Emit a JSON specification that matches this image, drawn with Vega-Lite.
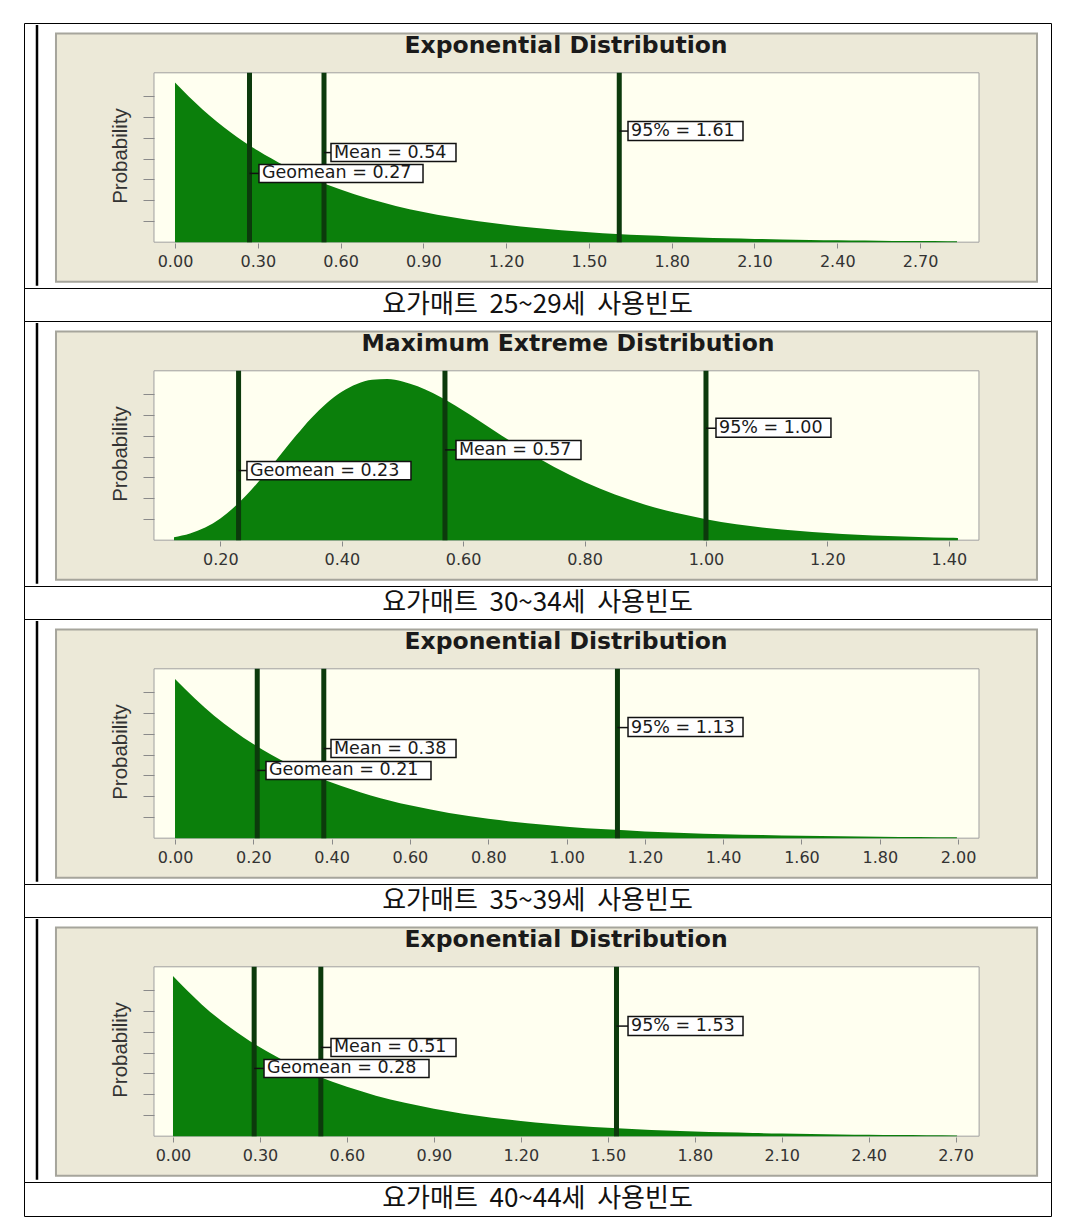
{
  "$schema": "https://vega.github.io/schema/vega-lite/v6.json",
  "background": "white",
  "padding": {"left": 23, "top": 22, "right": 0, "bottom": 0},
  "spacing": 0,
  "bounds": "flush",
  "config": {
    "view": {"stroke": "#000000", "strokeWidth": 1},
    "axis": {"grid": false, "zindex": 1},
    "concat": {"spacing": 0}
  },
  "vconcat": [
    {
      "width": 1027, "height": 265,
      "encoding": {
        "x": {"field": "x", "type": "quantitative", "scale": {"domain": [-0.5472, 3.1746], "nice": false, "zero": false},
          "axis": {"values": [0, 0.3, 0.6, 0.9, 1.2, 1.5, 1.8, 2.1, 2.4, 2.7], "format": ".2f", "offset": -45, "zindex": 1, "domain": false, "tickSize": 5, "tickColor": "#8a8a8a", "labelFont": "DejaVu Sans", "labelFontSize": 16, "labelColor": "#333333", "labelPadding": 5, "labelOverlap": false, "labelFlush": false, "title": null}},
        "y": {"field": "y", "type": "quantitative", "scale": {"domain": [-0.2706, 1.2941], "nice": false, "zero": false},
          "axis": {"values": [0.1235, 0.247, 0.3705, 0.494, 0.6175, 0.741, 0.8645], "labels": false, "offset": -130, "zindex": 1, "domain": false, "tickSize": 11, "tickColor": "#8a8a8a", "title": "Probability", "titleFont": "Liberation Sans", "titleFontSize": 20.5, "titleFontWeight": "normal", "titleColor": "#333333", "titlePadding": 12}}
      },
      "layer": [
        {"data": {"values": [{"x": -0.4313, "x2": 3.1239, "y": -0.2335, "y2": 1.232}]},
          "mark": {"type": "rect", "fill": "#ECE9D8", "stroke": "#A6A59C", "strokeWidth": 2},
          "encoding": {"x2": {"field": "x2"}, "y2": {"field": "y2"}}},
        {"data": {"values": [{"x": -0.5001, "y": -0.258, "y2": 1.282}]},
          "mark": {"type": "rule", "color": "#000000", "strokeWidth": 2.5},
          "encoding": {"y2": {"field": "y2"}}},
        {"data": {"values": [{"x": -0.0761, "x2": 2.9137, "y": 0, "y2": 1}]},
          "mark": {"type": "rect", "fill": "#FFFFF0", "stroke": "#A0A0A0", "strokeWidth": 1},
          "encoding": {"x2": {"field": "x2"}, "y2": {"field": "y2"}}},
        {"data": {"values": [
          {"x": 0, "y": 0.943}, {"x": 0.1, "y": 0.7836}, {"x": 0.2, "y": 0.6511}, {"x": 0.3, "y": 0.541}, {"x": 0.4, "y": 0.4495},
          {"x": 0.5, "y": 0.3735}, {"x": 0.6, "y": 0.3104}, {"x": 0.7, "y": 0.2579}, {"x": 0.8, "y": 0.2143}, {"x": 0.9, "y": 0.1781},
          {"x": 1.0, "y": 0.148}, {"x": 1.1, "y": 0.1229}, {"x": 1.2, "y": 0.1022}, {"x": 1.3, "y": 0.0849}, {"x": 1.4, "y": 0.0705},
          {"x": 1.5, "y": 0.0586}, {"x": 1.6, "y": 0.0487}, {"x": 1.7, "y": 0.0405}, {"x": 1.8, "y": 0.0336}, {"x": 1.9, "y": 0.0279},
          {"x": 2.0, "y": 0.0232}, {"x": 2.1, "y": 0.0193}, {"x": 2.2, "y": 0.016}, {"x": 2.3, "y": 0.0133}, {"x": 2.4, "y": 0.0111},
          {"x": 2.5, "y": 0.0092}, {"x": 2.6, "y": 0.0076}, {"x": 2.7, "y": 0.0064}, {"x": 2.8, "y": 0.0053}, {"x": 2.834, "y": 0.0049}]},
          "mark": {"type": "area", "color": "#0B7F0B", "interpolate": "monotone"}},
        {"data": {"values": [{"x": 0.27, "y": 0, "y2": 1}, {"x": 0.54, "y": 0, "y2": 1}, {"x": 1.61, "y": 0, "y2": 1}]},
          "mark": {"type": "rule", "color": "#0C3A0C", "strokeWidth": 5},
          "encoding": {"y2": {"field": "y2"}}},
        {"data": {"values": [{"x": 0.54, "x2": 0.5653, "y": 0.529}, {"x": 0.27, "x2": 0.3044, "y": 0.406}, {"x": 1.61, "x2": 1.6417, "y": 0.656}]},
          "mark": {"type": "rule", "color": "#111111", "strokeWidth": 1.5},
          "encoding": {"x2": {"field": "x2"}}},
        {"data": {"values": [{"x": 0.5653, "x2": 1.0183, "y": 0.476, "y2": 0.582}, {"x": 0.3044, "x2": 0.8988, "y": 0.353, "y2": 0.459}, {"x": 1.6417, "x2": 2.0584, "y": 0.6, "y2": 0.712}]},
          "mark": {"type": "rect", "fill": "#FFFFFF", "stroke": "#111111", "strokeWidth": 1.5},
          "encoding": {"x2": {"field": "x2"}, "y2": {"field": "y2"}}},
        {"data": {"values": [{"x": 0.5653, "y": 0.529, "t": "Mean = 0.54"}, {"x": 0.3044, "y": 0.406, "t": "Geomean = 0.27"}, {"x": 1.6417, "y": 0.656, "t": "95% = 1.61"}]},
          "mark": {"type": "text", "align": "left", "baseline": "middle", "dx": 3, "font": "DejaVu Sans", "fontSize": 17.5, "color": "#1a1a1a"},
          "encoding": {"text": {"field": "t"}}},
        {"data": {"values": [{"x": 1.417, "y": 1.159, "t": "Exponential Distribution"}]},
          "mark": {"type": "text", "align": "center", "baseline": "middle", "font": "DejaVu Sans", "fontSize": 23.5, "fontWeight": "bold", "color": "#1a1a1a"},
          "encoding": {"text": {"field": "t"}}}
      ]
    },
    {
      "width": 1027, "height": 33,
      "data": {"values": [{"t": "요가매트\u00a0 25~29세\u00a0 사용빈도"}]},
      "mark": {"type": "text", "font": "Noto Sans CJK KR", "fontSize": 26, "color": "#111111", "baseline": "middle"},
      "encoding": {
        "x": {"datum": 0.5, "type": "quantitative", "scale": {"domain": [0, 1]}, "axis": null},
        "y": {"datum": 0.5, "type": "quantitative", "scale": {"domain": [0, 1]}, "axis": null},
        "text": {"field": "t"}
      }
    },
    {
      "width": 1027, "height": 265,
      "encoding": {
        "x": {"field": "x", "type": "quantitative", "scale": {"domain": [-0.1235, 1.5684], "nice": false, "zero": false},
          "axis": {"values": [0.2, 0.4, 0.6, 0.8, 1.0, 1.2, 1.4], "format": ".2f", "offset": -45, "zindex": 1, "domain": false, "tickSize": 5, "tickColor": "#8a8a8a", "labelFont": "DejaVu Sans", "labelFontSize": 16, "labelColor": "#333333", "labelPadding": 5, "labelOverlap": false, "labelFlush": false, "title": null}},
        "y": {"field": "y", "type": "quantitative", "scale": {"domain": [-0.2706, 1.2941], "nice": false, "zero": false},
          "axis": {"values": [0.1235, 0.247, 0.3705, 0.494, 0.6175, 0.741, 0.8645], "labels": false, "offset": -130, "zindex": 1, "domain": false, "tickSize": 11, "tickColor": "#8a8a8a", "title": "Probability", "titleFont": "Liberation Sans", "titleFontSize": 20.5, "titleFontWeight": "normal", "titleColor": "#333333", "titlePadding": 12}}
      },
      "layer": [
        {"data": {"values": [{"x": -0.0708, "x2": 1.5453, "y": -0.2335, "y2": 1.232}]},
          "mark": {"type": "rect", "fill": "#ECE9D8", "stroke": "#A6A59C", "strokeWidth": 2},
          "encoding": {"x2": {"field": "x2"}, "y2": {"field": "y2"}}},
        {"data": {"values": [{"x": -0.1021, "y": -0.258, "y2": 1.282}]},
          "mark": {"type": "rule", "color": "#000000", "strokeWidth": 2.5},
          "encoding": {"y2": {"field": "y2"}}},
        {"data": {"values": [{"x": 0.0906, "x2": 1.4497, "y": 0, "y2": 1}]},
          "mark": {"type": "rect", "fill": "#FFFFF0", "stroke": "#A0A0A0", "strokeWidth": 1},
          "encoding": {"x2": {"field": "x2"}, "y2": {"field": "y2"}}},
        {"data": {"values": [
          {"x": 0.1236, "y": 0.0176}, {"x": 0.15, "y": 0.0394}, {"x": 0.2, "y": 0.1286}, {"x": 0.25, "y": 0.2931}, {"x": 0.275, "y": 0.3977},
          {"x": 0.3, "y": 0.509}, {"x": 0.325, "y": 0.619}, {"x": 0.35, "y": 0.7216}, {"x": 0.375, "y": 0.808}, {"x": 0.4, "y": 0.876},
          {"x": 0.425, "y": 0.922}, {"x": 0.45, "y": 0.947}, {"x": 0.475, "y": 0.951}, {"x": 0.5, "y": 0.9376}, {"x": 0.525, "y": 0.909},
          {"x": 0.55, "y": 0.8687}, {"x": 0.575, "y": 0.82}, {"x": 0.6, "y": 0.7655}, {"x": 0.625, "y": 0.708}, {"x": 0.65, "y": 0.6497},
          {"x": 0.675, "y": 0.5918}, {"x": 0.7, "y": 0.5357}, {"x": 0.75, "y": 0.4323}, {"x": 0.8, "y": 0.3433},
          {"x": 0.85, "y": 0.2692}, {"x": 0.9, "y": 0.2092}, {"x": 0.95, "y": 0.1614}, {"x": 1.0, "y": 0.1239}, {"x": 1.05, "y": 0.0947},
          {"x": 1.1, "y": 0.0722}, {"x": 1.15, "y": 0.0549}, {"x": 1.2, "y": 0.0417}, {"x": 1.25, "y": 0.0316}, {"x": 1.3, "y": 0.0239},
          {"x": 1.35, "y": 0.0181}, {"x": 1.4, "y": 0.0137}, {"x": 1.4151, "y": 0.0126}]},
          "mark": {"type": "area", "color": "#0B7F0B", "interpolate": "monotone"}},
        {"data": {"values": [{"x": 0.23, "y": 0, "y2": 1}, {"x": 0.57, "y": 0, "y2": 1}, {"x": 1.0, "y": 0, "y2": 1}]},
          "mark": {"type": "rule", "color": "#0C3A0C", "strokeWidth": 5},
          "encoding": {"y2": {"field": "y2"}}},
        {"data": {"values": [{"x": 0.23, "x2": 0.2438, "y": 0.411}, {"x": 0.57, "x2": 0.5882, "y": 0.533}, {"x": 1.0, "x2": 1.0165, "y": 0.661}]},
          "mark": {"type": "rule", "color": "#111111", "strokeWidth": 1.5},
          "encoding": {"x2": {"field": "x2"}}},
        {"data": {"values": [{"x": 0.2438, "x2": 0.514, "y": 0.357, "y2": 0.464}, {"x": 0.5882, "x2": 0.7941, "y": 0.476, "y2": 0.589}, {"x": 1.0165, "x2": 1.2059, "y": 0.607, "y2": 0.72}]},
          "mark": {"type": "rect", "fill": "#FFFFFF", "stroke": "#111111", "strokeWidth": 1.5},
          "encoding": {"x2": {"field": "x2"}, "y2": {"field": "y2"}}},
        {"data": {"values": [{"x": 0.2438, "y": 0.411, "t": "Geomean = 0.23"}, {"x": 0.5882, "y": 0.533, "t": "Mean = 0.57"}, {"x": 1.0165, "y": 0.661, "t": "95% = 1.00"}]},
          "mark": {"type": "text", "align": "left", "baseline": "middle", "dx": 3, "font": "DejaVu Sans", "fontSize": 17.5, "color": "#1a1a1a"},
          "encoding": {"text": {"field": "t"}}},
        {"data": {"values": [{"x": 0.7727, "y": 1.159, "t": "Maximum Extreme Distribution"}]},
          "mark": {"type": "text", "align": "center", "baseline": "middle", "font": "DejaVu Sans", "fontSize": 23.5, "fontWeight": "bold", "color": "#1a1a1a"},
          "encoding": {"text": {"field": "t"}}}
      ]
    },
    {
      "width": 1027, "height": 33,
      "data": {"values": [{"t": "요가매트\u00a0 30~34세\u00a0 사용빈도"}]},
      "mark": {"type": "text", "font": "Noto Sans CJK KR", "fontSize": 26, "color": "#111111", "baseline": "middle"},
      "encoding": {
        "x": {"datum": 0.5, "type": "quantitative", "scale": {"domain": [0, 1]}, "axis": null},
        "y": {"datum": 0.5, "type": "quantitative", "scale": {"domain": [0, 1]}, "axis": null},
        "text": {"field": "t"}
      }
    },
    {
      "width": 1027, "height": 265,
      "encoding": {
        "x": {"field": "x", "type": "quantitative", "scale": {"domain": [-0.3857, 2.2373], "nice": false, "zero": false},
          "axis": {"values": [0, 0.2, 0.4, 0.6, 0.8, 1.0, 1.2, 1.4, 1.6, 1.8, 2.0], "format": ".2f", "offset": -45, "zindex": 1, "domain": false, "tickSize": 5, "tickColor": "#8a8a8a", "labelFont": "DejaVu Sans", "labelFontSize": 16, "labelColor": "#333333", "labelPadding": 5, "labelOverlap": false, "labelFlush": false, "title": null}},
        "y": {"field": "y", "type": "quantitative", "scale": {"domain": [-0.2706, 1.2941], "nice": false, "zero": false},
          "axis": {"values": [0.1235, 0.247, 0.3705, 0.494, 0.6175, 0.741, 0.8645], "labels": false, "offset": -130, "zindex": 1, "domain": false, "tickSize": 11, "tickColor": "#8a8a8a", "title": "Probability", "titleFont": "Liberation Sans", "titleFontSize": 20.5, "titleFontWeight": "normal", "titleColor": "#333333", "titlePadding": 12}}
      },
      "layer": [
        {"data": {"values": [{"x": -0.3039, "x2": 2.2016, "y": -0.2335, "y2": 1.232}]},
          "mark": {"type": "rect", "fill": "#ECE9D8", "stroke": "#A6A59C", "strokeWidth": 2},
          "encoding": {"x2": {"field": "x2"}, "y2": {"field": "y2"}}},
        {"data": {"values": [{"x": -0.3525, "y": -0.258, "y2": 1.282}]},
          "mark": {"type": "rule", "color": "#000000", "strokeWidth": 2.5},
          "encoding": {"y2": {"field": "y2"}}},
        {"data": {"values": [{"x": -0.0536, "x2": 2.0534, "y": 0, "y2": 1}]},
          "mark": {"type": "rect", "fill": "#FFFFF0", "stroke": "#A0A0A0", "strokeWidth": 1},
          "encoding": {"x2": {"field": "x2"}, "y2": {"field": "y2"}}},
        {"data": {"values": [
          {"x": 0, "y": 0.94}, {"x": 0.1, "y": 0.7225}, {"x": 0.2, "y": 0.5553}, {"x": 0.3, "y": 0.4268}, {"x": 0.4, "y": 0.328},
          {"x": 0.5, "y": 0.2521}, {"x": 0.6, "y": 0.1938}, {"x": 0.7, "y": 0.149}, {"x": 0.8, "y": 0.1145}, {"x": 0.9, "y": 0.088},
          {"x": 1.0, "y": 0.0676}, {"x": 1.1, "y": 0.052}, {"x": 1.2, "y": 0.04}, {"x": 1.3, "y": 0.0307}, {"x": 1.4, "y": 0.0236},
          {"x": 1.5, "y": 0.0181}, {"x": 1.6, "y": 0.0139}, {"x": 1.7, "y": 0.0107}, {"x": 1.8, "y": 0.0082}, {"x": 1.9, "y": 0.0063},
          {"x": 1.997, "y": 0.0049}]},
          "mark": {"type": "area", "color": "#0B7F0B", "interpolate": "monotone"}},
        {"data": {"values": [{"x": 0.21, "y": 0, "y2": 1}, {"x": 0.38, "y": 0, "y2": 1}, {"x": 1.13, "y": 0, "y2": 1}]},
          "mark": {"type": "rule", "color": "#0C3A0C", "strokeWidth": 5},
          "encoding": {"y2": {"field": "y2"}}},
        {"data": {"values": [{"x": 0.38, "x2": 0.3984, "y": 0.529}, {"x": 0.21, "x2": 0.2324, "y": 0.4}, {"x": 1.13, "x2": 1.157, "y": 0.653}]},
          "mark": {"type": "rule", "color": "#111111", "strokeWidth": 1.5},
          "encoding": {"x2": {"field": "x2"}}},
        {"data": {"values": [{"x": 0.3984, "x2": 0.7177, "y": 0.476, "y2": 0.582}, {"x": 0.2324, "x2": 0.6538, "y": 0.347, "y2": 0.453}, {"x": 1.157, "x2": 1.4507, "y": 0.6, "y2": 0.712}]},
          "mark": {"type": "rect", "fill": "#FFFFFF", "stroke": "#111111", "strokeWidth": 1.5},
          "encoding": {"x2": {"field": "x2"}, "y2": {"field": "y2"}}},
        {"data": {"values": [{"x": 0.3984, "y": 0.529, "t": "Mean = 0.38"}, {"x": 0.2324, "y": 0.4, "t": "Geomean = 0.21"}, {"x": 1.157, "y": 0.653, "t": "95% = 1.13"}]},
          "mark": {"type": "text", "align": "left", "baseline": "middle", "dx": 3, "font": "DejaVu Sans", "fontSize": 17.5, "color": "#1a1a1a"},
          "encoding": {"text": {"field": "t"}}},
        {"data": {"values": [{"x": 0.9986, "y": 1.159, "t": "Exponential Distribution"}]},
          "mark": {"type": "text", "align": "center", "baseline": "middle", "font": "DejaVu Sans", "fontSize": 23.5, "fontWeight": "bold", "color": "#1a1a1a"},
          "encoding": {"text": {"field": "t"}}}
      ]
    },
    {
      "width": 1027, "height": 33,
      "data": {"values": [{"t": "요가매트\u00a0 35~39세\u00a0 사용빈도"}]},
      "mark": {"type": "text", "font": "Noto Sans CJK KR", "fontSize": 26, "color": "#111111", "baseline": "middle"},
      "encoding": {
        "x": {"datum": 0.5, "type": "quantitative", "scale": {"domain": [0, 1]}, "axis": null},
        "y": {"datum": 0.5, "type": "quantitative", "scale": {"domain": [0, 1]}, "axis": null},
        "text": {"field": "t"}
      }
    },
    {
      "width": 1027, "height": 265,
      "encoding": {
        "x": {"field": "x", "type": "quantitative", "scale": {"domain": [-0.514, 3.029], "nice": false, "zero": false},
          "axis": {"values": [0, 0.3, 0.6, 0.9, 1.2, 1.5, 1.8, 2.1, 2.4, 2.7], "format": ".2f", "offset": -45, "zindex": 1, "domain": false, "tickSize": 5, "tickColor": "#8a8a8a", "labelFont": "DejaVu Sans", "labelFontSize": 16, "labelColor": "#333333", "labelPadding": 5, "labelOverlap": false, "labelFlush": false, "title": null}},
        "y": {"field": "y", "type": "quantitative", "scale": {"domain": [-0.2706, 1.2941], "nice": false, "zero": false},
          "axis": {"values": [0.1235, 0.247, 0.3705, 0.494, 0.6175, 0.741, 0.8645], "labels": false, "offset": -130, "zindex": 1, "domain": false, "tickSize": 11, "tickColor": "#8a8a8a", "title": "Probability", "titleFont": "Liberation Sans", "titleFontSize": 20.5, "titleFontWeight": "normal", "titleColor": "#333333", "titlePadding": 12}}
      },
      "layer": [
        {"data": {"values": [{"x": -0.4037, "x2": 2.981, "y": -0.2335, "y2": 1.232}]},
          "mark": {"type": "rect", "fill": "#ECE9D8", "stroke": "#A6A59C", "strokeWidth": 2},
          "encoding": {"x2": {"field": "x2"}, "y2": {"field": "y2"}}},
        {"data": {"values": [{"x": -0.4692, "y": -0.258, "y2": 1.282}]},
          "mark": {"type": "rule", "color": "#000000", "strokeWidth": 2.5},
          "encoding": {"y2": {"field": "y2"}}},
        {"data": {"values": [{"x": -0.0656, "x2": 2.781, "y": 0, "y2": 1}]},
          "mark": {"type": "rect", "fill": "#FFFFF0", "stroke": "#A0A0A0", "strokeWidth": 1},
          "encoding": {"x2": {"field": "x2"}, "y2": {"field": "y2"}}},
        {"data": {"values": [
          {"x": 0, "y": 0.945}, {"x": 0.1, "y": 0.7767}, {"x": 0.2, "y": 0.6384}, {"x": 0.3, "y": 0.5247}, {"x": 0.4, "y": 0.4312},
          {"x": 0.5, "y": 0.3544}, {"x": 0.6, "y": 0.2913}, {"x": 0.7, "y": 0.2394}, {"x": 0.8, "y": 0.1968}, {"x": 0.9, "y": 0.1617},
          {"x": 1.0, "y": 0.1329}, {"x": 1.1, "y": 0.1093}, {"x": 1.2, "y": 0.0898}, {"x": 1.3, "y": 0.0738}, {"x": 1.4, "y": 0.0607},
          {"x": 1.5, "y": 0.0499}, {"x": 1.6, "y": 0.041}, {"x": 1.7, "y": 0.0337}, {"x": 1.8, "y": 0.0277}, {"x": 1.9, "y": 0.0227},
          {"x": 2.0, "y": 0.0187}, {"x": 2.1, "y": 0.0154}, {"x": 2.2, "y": 0.0126}, {"x": 2.3, "y": 0.0104}, {"x": 2.4, "y": 0.0085},
          {"x": 2.5, "y": 0.007}, {"x": 2.6, "y": 0.0058}, {"x": 2.705, "y": 0.0047}]},
          "mark": {"type": "area", "color": "#0B7F0B", "interpolate": "monotone"}},
        {"data": {"values": [{"x": 0.28, "y": 0, "y2": 1}, {"x": 0.51, "y": 0, "y2": 1}, {"x": 1.53, "y": 0, "y2": 1}]},
          "mark": {"type": "rule", "color": "#0C3A0C", "strokeWidth": 5},
          "encoding": {"y2": {"field": "y2"}}},
        {"data": {"values": [{"x": 0.51, "x2": 0.5451, "y": 0.524}, {"x": 0.28, "x2": 0.314, "y": 0.4}, {"x": 1.53, "x2": 1.5698, "y": 0.65}]},
          "mark": {"type": "rule", "color": "#111111", "strokeWidth": 1.5},
          "encoding": {"x2": {"field": "x2"}}},
        {"data": {"values": [{"x": 0.5451, "x2": 0.9764, "y": 0.47, "y2": 0.576}, {"x": 0.314, "x2": 0.8832, "y": 0.347, "y2": 0.453}, {"x": 1.5698, "x2": 1.9665, "y": 0.594, "y2": 0.706}]},
          "mark": {"type": "rect", "fill": "#FFFFFF", "stroke": "#111111", "strokeWidth": 1.5},
          "encoding": {"x2": {"field": "x2"}, "y2": {"field": "y2"}}},
        {"data": {"values": [{"x": 0.5451, "y": 0.524, "t": "Mean = 0.51"}, {"x": 0.314, "y": 0.4, "t": "Geomean = 0.28"}, {"x": 1.5698, "y": 0.65, "t": "95% = 1.53"}]},
          "mark": {"type": "text", "align": "left", "baseline": "middle", "dx": 3, "font": "DejaVu Sans", "fontSize": 17.5, "color": "#1a1a1a"},
          "encoding": {"text": {"field": "t"}}},
        {"data": {"values": [{"x": 1.356, "y": 1.159, "t": "Exponential Distribution"}]},
          "mark": {"type": "text", "align": "center", "baseline": "middle", "font": "DejaVu Sans", "fontSize": 23.5, "fontWeight": "bold", "color": "#1a1a1a"},
          "encoding": {"text": {"field": "t"}}}
      ]
    },
    {
      "width": 1027, "height": 34,
      "data": {"values": [{"t": "요가매트\u00a0 40~44세\u00a0 사용빈도"}]},
      "mark": {"type": "text", "font": "Noto Sans CJK KR", "fontSize": 26, "color": "#111111", "baseline": "middle"},
      "encoding": {
        "x": {"datum": 0.5, "type": "quantitative", "scale": {"domain": [0, 1]}, "axis": null},
        "y": {"datum": 0.5, "type": "quantitative", "scale": {"domain": [0, 1]}, "axis": null},
        "text": {"field": "t"}
      }
    }
  ]
}
